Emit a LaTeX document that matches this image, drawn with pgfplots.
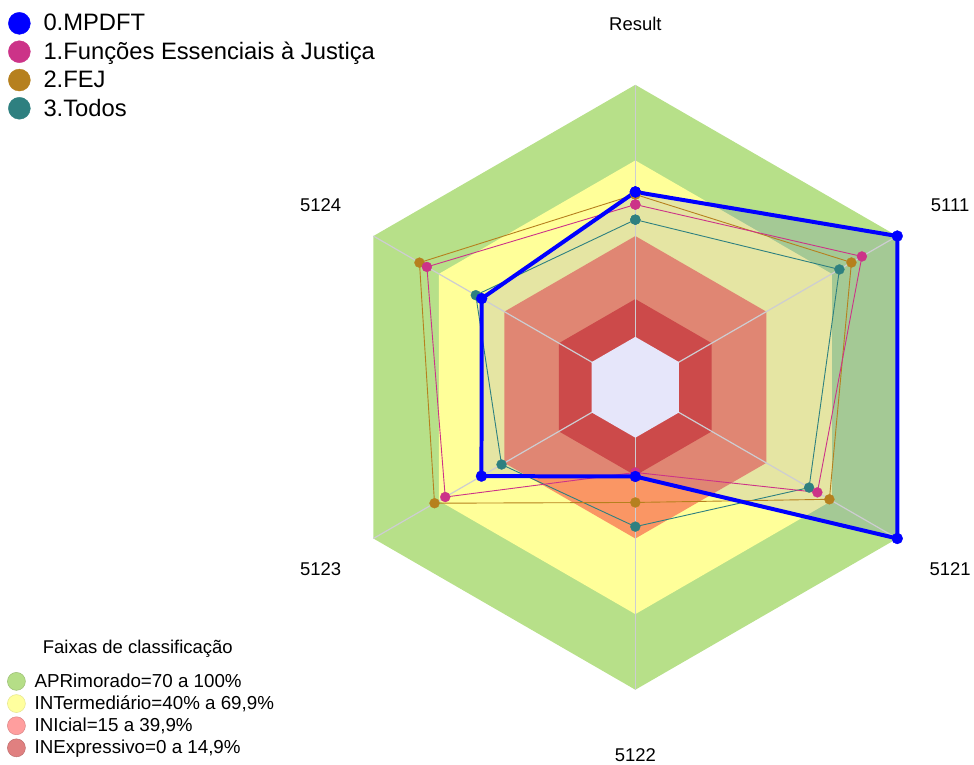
\documentclass[border=0pt]{standalone}
\usepackage{pgfplots}
\pgfplotsset{compat=1.18}
\usepackage{pgfplotstable}
\usepackage{fontspec}
\setmainfont{Liberation Sans}

\definecolor{cGreen}{RGB}{183,224,137}
\definecolor{cYellow}{RGB}{255,255,153}
\definecolor{cSalmon}{RGB}{250,150,100}
\definecolor{cRed}{RGB}{204,74,74}
\definecolor{cLav}{RGB}{230,230,250}
\definecolor{cGrid}{RGB}{205,205,210}
\definecolor{sBlue}{RGB}{0,0,255}
\definecolor{sPink}{RGB}{204,51,136}
\definecolor{sBrown}{RGB}{182,128,30}
\definecolor{sTeal}{RGB}{46,128,128}
\definecolor{lGreen}{RGB}{181,222,135}
\definecolor{lYellow}{RGB}{255,255,158}
\definecolor{lPink}{RGB}{255,158,158}
\definecolor{lRed}{RGB}{224,128,128}

% angle (deg) and score of each series; first row repeated to close the polygon
\pgfplotstableread{
ax     a    mp    fu    fej   tod
Result 90   57.5  52.5  56.5  46.5
5111   30   100   83.8  79.0  73.5
5121   -30  100   63.4  68.9  59.6
5122   -90  15.4  13.8  25.7  35.3
5123   210  50.5  67.1  72.0  41.3
5124   150  50.4  75.5  78.9  53.1
Result 450  57.5  52.5  56.5  46.5
}\radar

% hexagon vertices (angle) for band limits
\pgfplotstableread{
a   k
90  1
30  1
-30 1
-90 1
210 1
150 1
}\hex

% spokes
\pgfplotstableread{
a   k
90  1
270 1
}\spokeA
\pgfplotstableread{
a   k
30  1
210 1
}\spokeB
\pgfplotstableread{
a   k
-30 1
150 1
}\spokeC

\begin{document}
\begin{tikzpicture}
\begin{axis}[
  x=2.525pt, y=2.525pt,
  xmin=-252.08, xmax=133.66, ymin=-148.51, ymax=153.66,
  hide axis, clip=false,
  legend style={draw=none, fill=none, at={(axis description cs:0,1)}, anchor=north west,
    xshift=8pt, yshift=-12pt, font=\fontsize{23.8}{26}\selectfont,
    row sep=5.7pt, column sep=11pt, inner sep=0pt, cells={inner sep=0pt}},
  legend cell align=left,
  legend image code/.code={\fill[#1] (0pt,0pt) circle (11pt);},
]
% classification bands (offset of 20 = radar minimum -20)
\addplot[draw=none, fill=cGreen, forget plot] table[x expr={(100+20)*cos(\thisrow{a})}, y expr={(100+20)*sin(\thisrow{a})}] {\hex};
\addplot[draw=none, fill=cYellow, forget plot] table[x expr={(70+20)*cos(\thisrow{a})}, y expr={(70+20)*sin(\thisrow{a})}] {\hex};
\addplot[draw=none, fill=cSalmon, forget plot] table[x expr={(40+20)*cos(\thisrow{a})}, y expr={(40+20)*sin(\thisrow{a})}] {\hex};
% translucent fill of MPDFT polygon
\addplot[draw=none, fill=sBlue, fill opacity=0.1, forget plot] table[x expr={(\thisrow{mp}+20)*cos(\thisrow{a})}, y expr={(\thisrow{mp}+20)*sin(\thisrow{a})}] {\radar};
\addplot[draw=none, fill=cRed, forget plot] table[x expr={(15+20)*cos(\thisrow{a})}, y expr={(15+20)*sin(\thisrow{a})}] {\hex};
% spokes
\addplot[cGrid, line width=1.2pt, forget plot] table[x expr={120*cos(\thisrow{a})}, y expr={120*sin(\thisrow{a})}] {\spokeA};
\addplot[cGrid, line width=1.2pt, forget plot] table[x expr={120*cos(\thisrow{a})}, y expr={120*sin(\thisrow{a})}] {\spokeB};
\addplot[cGrid, line width=1.2pt, forget plot] table[x expr={120*cos(\thisrow{a})}, y expr={120*sin(\thisrow{a})}] {\spokeC};
\addplot[draw=none, fill=cLav, forget plot] table[x expr={(0+20)*cos(\thisrow{a})}, y expr={(0+20)*sin(\thisrow{a})}] {\hex};

% legend placeholders in order
\addlegendimage{sBlue}\addlegendentry{0.MPDFT}
\addlegendimage{sPink}\addlegendentry{1.Funções Essenciais à Justiça}
\addlegendimage{sBrown}\addlegendentry{2.FEJ}
\addlegendimage{sTeal}\addlegendentry{3.Todos}

% series (drawn in reverse so MPDFT is on top)
\addplot[sTeal, line width=0.9pt, mark=*, mark size=5pt, mark options={line width=0.3pt}, forget plot] table[x expr={(\thisrow{tod}+20)*cos(\thisrow{a})}, y expr={(\thisrow{tod}+20)*sin(\thisrow{a})}] {\radar};
\addplot[sBrown, line width=0.9pt, mark=*, mark size=5pt, mark options={line width=0.3pt}, forget plot] table[x expr={(\thisrow{fej}+20)*cos(\thisrow{a})}, y expr={(\thisrow{fej}+20)*sin(\thisrow{a})}] {\radar};
\addplot[sPink, line width=0.9pt, mark=*, mark size=5pt, mark options={line width=0.3pt}, forget plot] table[x expr={(\thisrow{fu}+20)*cos(\thisrow{a})}, y expr={(\thisrow{fu}+20)*sin(\thisrow{a})}] {\radar};
\addplot[sBlue, line width=4pt, line join=round, mark=*, mark size=5.5pt, mark options={line width=0.3pt}, forget plot] table[x expr={(\thisrow{mp}+20)*cos(\thisrow{a})}, y expr={(\thisrow{mp}+20)*sin(\thisrow{a})}] {\radar};

% axis labels
\begin{scope}[every node/.style={font=\fontsize{18.5}{22}\selectfont, anchor=center}]
\node at (axis cs:0,144.2) {Result};
\node at (axis cs:124.9,72.1) {5111};
\node at (axis cs:124.9,-72.1) {5121};
\node at (axis cs:0,-145.8) {5122};
\node at (axis cs:-124.9,-72.1) {5123};
\node at (axis cs:-124.9,72.1) {5124};
\node at (axis cs:-197.4,-103.8) {Faixas de classificação};
\end{scope}
\end{axis}

\begin{axis}[
  x=2.525pt, y=2.525pt,
  xmin=-252.08, xmax=133.66, ymin=-148.51, ymax=153.66,
  hide axis,
  legend style={draw=none, fill=none, at={(axis description cs:0,0)}, anchor=south west,
    xshift=7pt, yshift=4pt, font=\fontsize{18.8}{21}\selectfont,
    row sep=3pt, column sep=7pt, inner sep=0pt, cells={inner sep=0pt}},
  legend cell align=left,
  legend image code/.code={\draw[#1] (0pt,0pt) circle (9pt);},
]
\addlegendimage{draw=lGreen!85!black, fill=lGreen, line width=0.5pt}\addlegendentry{APRimorado=70 a 100\%}
\addlegendimage{draw=lYellow!90!black, fill=lYellow, line width=0.5pt}\addlegendentry{INTermediário=40\% a 69,9\%}
\addlegendimage{draw=lPink!85!black, fill=lPink, line width=0.5pt}\addlegendentry{INIcial=15 a 39,9\%}
\addlegendimage{draw=lRed!85!black, fill=lRed, line width=0.5pt}\addlegendentry{INExpressivo=0 a 14,9\%}
\end{axis}
\path (current axis.south west) rectangle (current axis.north east);
\end{tikzpicture}
\end{document}
